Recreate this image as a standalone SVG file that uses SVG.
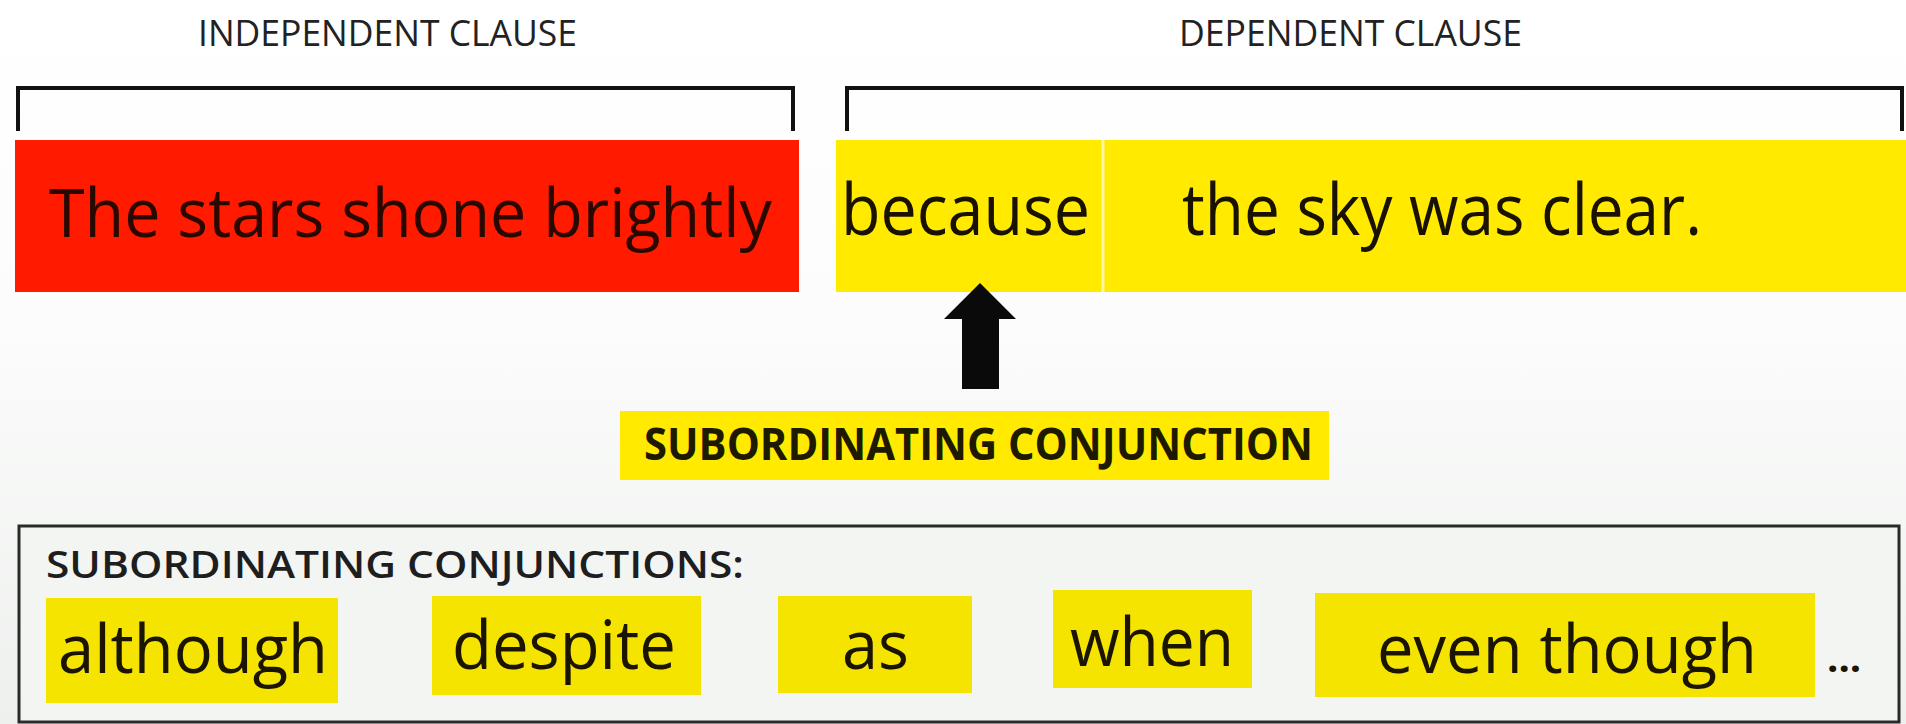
<svg xmlns="http://www.w3.org/2000/svg" width="1906" height="724" viewBox="0 0 1906 724">
<defs>
<linearGradient id="bg" x1="0" y1="0" x2="0" y2="1">
<stop offset="0" stop-color="#ffffff"/>
<stop offset="0.45" stop-color="#fbfcfb"/>
<stop offset="1" stop-color="#eef0ee"/>
</linearGradient>
<style>
.hdr{font-family:"Open Sans","Liberation Sans",sans-serif;font-size:36px;fill:#222;}
.big{font-family:"Open Sans","Liberation Sans",sans-serif;font-size:72px;font-weight:500;fill:#1a1200;}
.word{font-family:"Open Sans","Liberation Sans",sans-serif;font-size:68px;font-weight:500;fill:#1a1400;}
.lbl{font-family:"Open Sans","Liberation Sans",sans-serif;font-weight:700;font-size:45px;fill:#1e1a00;}
.ttl{font-family:"Open Sans","Liberation Sans",sans-serif;font-weight:600;font-size:38px;fill:#1e1e1e;}
.brk{fill:none;stroke:#111;stroke-width:4;}
.yel{fill:#ffea00;}
.ywd{fill:#f4e400;}
</style>
</defs>
<rect x="0" y="0" width="1906" height="724" fill="url(#bg)"/>

<g id="independent-header">
<text class="hdr" x="198" y="46" textLength="379" lengthAdjust="spacingAndGlyphs">INDEPENDENT CLAUSE</text>
<path class="brk" d="M18 131 V88 H793 V131"/>
</g>

<g id="dependent-header">
<text class="hdr" x="1179" y="46" textLength="343" lengthAdjust="spacingAndGlyphs">DEPENDENT CLAUSE</text>
<path class="brk" d="M847 131 V88 H1902 V131"/>
</g>

<g id="independent-clause">
<rect x="15" y="140" width="784" height="152" fill="#ff1a00"/>
<text class="big" x="49" y="237" textLength="723" lengthAdjust="spacingAndGlyphs" style="fill:#2a0800;font-size:68px">The stars shone brightly</text>
</g>

<g id="dependent-clause">
<rect class="yel" x="836" y="140" width="1070" height="152"/>
<line x1="1103" y1="140" x2="1103" y2="292" stroke="#fff7a8" stroke-width="3"/>
<text class="big" x="841" y="235" textLength="249" lengthAdjust="spacingAndGlyphs">because</text>
<text class="big" x="1182" y="235" textLength="520" lengthAdjust="spacingAndGlyphs">the sky was clear.</text>
</g>

<g id="connectors">
<polygon points="980,283 1016,319 999,319 999,389 962,389 962,319 944,319" fill="#0a0a0a"/>
</g>

<g id="subordinating-conjunction">
<rect class="yel" x="620" y="411" width="709" height="69"/>
<text class="lbl" x="644" y="460" textLength="669" lengthAdjust="spacingAndGlyphs">SUBORDINATING CONJUNCTION</text>
</g>

<g id="conjunctions-list">
<rect x="19" y="526" width="1880" height="196" fill="#f3f5f3" stroke="#2a2a2a" stroke-width="3"/>
<text class="ttl" x="46" y="578" textLength="698" lengthAdjust="spacingAndGlyphs">SUBORDINATING CONJUNCTIONS:</text>
</g>

<g id="word-although">
<rect class="ywd" x="46" y="598" width="292" height="105"/>
<text class="word" x="58" y="673" textLength="270" lengthAdjust="spacingAndGlyphs">although</text>
</g>
<g id="word-despite">
<rect class="ywd" x="432" y="596" width="269" height="99"/>
<text class="word" x="452" y="669" textLength="224" lengthAdjust="spacingAndGlyphs">despite</text>
</g>
<g id="word-as">
<rect class="ywd" x="778" y="596" width="194" height="97"/>
<text class="word" x="842" y="669" textLength="67" lengthAdjust="spacingAndGlyphs">as</text>
</g>
<g id="word-when">
<rect class="ywd" x="1053" y="590" width="199" height="98"/>
<text class="word" x="1070" y="666" textLength="164" lengthAdjust="spacingAndGlyphs">when</text>
</g>
<g id="word-even-though">
<rect class="ywd" x="1315" y="593" width="500" height="104"/>
<text class="word" x="1377" y="673" textLength="380" lengthAdjust="spacingAndGlyphs">even though</text>
</g>
<g id="ellipsis">
<text class="word" x="1827" y="672" style="font-size:40px;font-weight:700">...</text>
</g>
</svg>
